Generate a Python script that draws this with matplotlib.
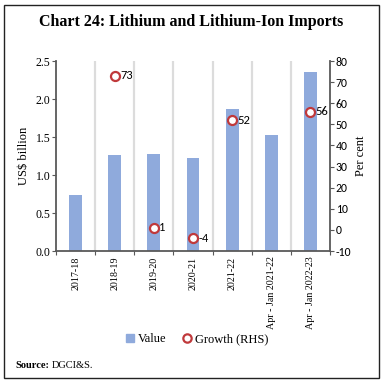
import numpy as np
import matplotlib
matplotlib.use("Agg")
import matplotlib.pyplot as plt
from matplotlib.patches import Rectangle
from matplotlib.lines import Line2D
from matplotlib.ticker import FixedLocator, NullFormatter

categories = ["2017-18", "2018-19", "2019-20", "2020-21", "2021-22",
              "Apr - Jan 2021-22", "Apr - Jan 2022-23"]
value = [0.74, 1.26, 1.28, 1.22, 1.87, 1.52, 2.35]
growth = [np.nan, 73, 1, -4, 52, np.nan, 56]

bar_col = "#8FAADC"
red = "#C0393B"
axis_col = "#595959"
serif = "Liberation Serif"
sans = "Carlito"

W = 383
fig = plt.figure(figsize=(3.83, 3.83), dpi=100)

# outer frame
fig.patches.append(Rectangle((4 / W, 5 / W), 375 / W, 373 / W, transform=fig.transFigure,
                             fill=False, edgecolor="#222222", linewidth=1.0))

fig.text(191 / W, 1 - 22 / W, "Chart 24: Lithium and Lithium-Ion Imports",
         ha="center", va="center", fontsize=11.5, fontweight="bold", family=serif)

ax = fig.add_axes([56 / W, 132 / W, 274 / W, 190 / W])
x = np.arange(len(categories))
ax.bar(x, value, width=0.33, color=bar_col, zorder=2)
ax.set_xlim(-0.5, len(categories) - 0.5)
ax.set_ylim(0, 2.5)
ax.set_yticks(np.arange(0, 2.51, 0.5))
ax.set_yticklabels(["%.1f" % v for v in np.arange(0, 2.51, 0.5)], family=serif, fontsize=8.5)

# category boundaries as ticks / grid
bounds = np.arange(-0.5, len(categories) - 0.4, 1.0)
ax.xaxis.set_major_locator(FixedLocator(bounds))
ax.xaxis.set_major_formatter(NullFormatter())
ax.xaxis.set_minor_locator(FixedLocator(x))
ax.set_xticklabels(categories, minor=True, rotation=90, family=serif, fontsize=7.2)
ax.tick_params(axis="x", which="minor", length=0, pad=4)
ax.tick_params(axis="x", which="major", length=3, color=axis_col, direction="out")
for b in bounds[1:-1]:
    ax.axvline(b, color="#DCDCDC", linewidth=1.6, zorder=1)
ax.tick_params(axis="y", length=3, color=axis_col, pad=1)
ax.set_ylabel("US$ billion", family=serif, fontsize=9, labelpad=4)

for s in ["top", "right"]:
    ax.spines[s].set_visible(False)
for s in ["left", "bottom"]:
    ax.spines[s].set_color(axis_col)
    ax.spines[s].set_linewidth(1.3)

ax2 = ax.twinx()
ax2.set_ylim(-10, 80)
ax2.set_yticks(np.arange(-10, 81, 10))
ax2.set_yticklabels([str(v) for v in range(-10, 81, 10)], family=sans, fontsize=8.5)
ax2.tick_params(axis="y", length=3, color=axis_col, pad=1)
ax2.plot(x, growth, linestyle="none", marker="o", markersize=6.5,
         markerfacecolor="white", markeredgecolor=red, markeredgewidth=1.6, zorder=3)
for xi, g in zip(x, growth):
    if not np.isnan(g):
        ax2.text(xi + 0.14, g, "%d" % g, va="center", ha="left", family=sans, fontsize=9)
for s in ["top", "left", "bottom"]:
    ax2.spines[s].set_visible(False)
ax2.spines["right"].set_color(axis_col)
ax2.spines["right"].set_linewidth(1.3)
ax2.set_ylabel("Per cent", family=serif, fontsize=9, labelpad=3)

handles = [Line2D([], [], linestyle="none", marker="s", markersize=6, color=bar_col),
           Line2D([], [], linestyle="none", marker="o", markersize=6,
                  markerfacecolor="white", markeredgecolor=red, markeredgewidth=1.6)]
fig.legend(handles, ["Value", "Growth (RHS)"], loc="center", bbox_to_anchor=(196 / W, 1 - 339 / W),
           ncol=2, frameon=False, prop={"family": serif, "size": 9},
           handletextpad=0.1, columnspacing=1.2, handlelength=1.0)

fig.text(15 / W, 1 - 365 / W, "Source:", fontweight="bold", family=serif, fontsize=7.5, va="center")
fig.text(52 / W, 1 - 365 / W, "DGCI&S.", family=serif, fontsize=7.5, va="center")

fig.savefig("out.png", dpi=100)
